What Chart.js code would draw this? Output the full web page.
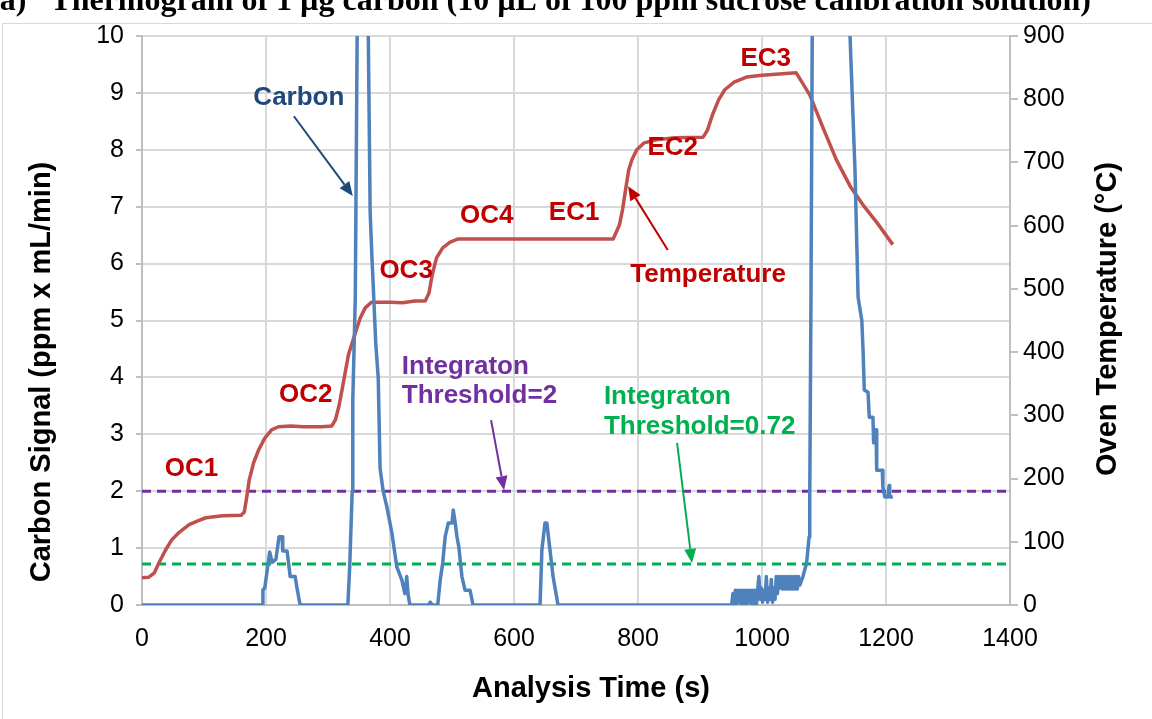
<!DOCTYPE html>
<html>
<head>
<meta charset="utf-8">
<script src="https://cdn.jsdelivr.net/npm/chart.js@4.4.0/dist/chart.umd.min.js"></script>
<style>
  html, body { margin: 0; padding: 0; background: #fff; }
  #wrap { width: 1152px; height: 719px; position: relative; }
</style>
</head>
<body>
<div id="wrap"><canvas id="thermoChart" width="1152" height="719"></canvas></div>
<script>
// Carbon signal (left axis, ppm x mL/min)
const carbonTime = [
  0, 194, 195, 198, 206, 210, 216, 221, 226, 227, 234, 239, 247, 250, 255,
  332, 335, 339, 340, 344, 347, 352, 357, 362, 365, 368, 371, 373, 377, 381, 384, 389, 395, 403, 411, 419, 424, 427, 429, 432,
  462, 465, 468, 477, 481, 485, 489, 494, 500, 502, 505, 508, 511, 516, 521, 529, 534,
  642, 645, 650, 653, 658, 663, 671,
  951, 953, 955, 957, 959, 961, 963, 965, 967, 969, 971, 973, 975, 977, 979, 981, 983, 985, 987, 989, 991, 993,
  995, 997, 999, 1001, 1003, 1005, 1007, 1009, 1011, 1013, 1015, 1017, 1019, 1021, 1023, 1025, 1027,
  1029, 1031, 1033, 1035, 1037, 1039, 1041, 1043, 1045, 1047, 1049, 1051, 1053, 1055, 1057, 1059, 1061,
  1066, 1072, 1076, 1077, 1079, 1081, 1090, 1115, 1135, 1142,
  1147, 1150, 1153, 1155, 1161, 1163, 1165, 1171, 1173, 1179, 1180, 1184, 1185, 1194, 1195, 1198, 1203, 1205, 1206, 1211
];
const carbonSignal = [
  0, 0, 0.26, 0.3, 0.93, 0.75, 0.8, 1.2, 1.2, 0.95, 0.95, 0.5, 0.5, 0.3, 0,
  0, 0.67, 2.0, 3.6, 5.4, 10, 18, 25, 20, 10, 6.9, 6.07, 5.6, 4.6, 4.0, 2.4, 2.0, 1.72, 1.27, 0.67, 0.44, 0.2, 0.5, 0.2, 0,
  0, 0.05, 0, 0, 0.44, 0.74, 1.2, 1.44, 1.44, 1.67, 1.46, 1.2, 1.02, 0.5, 0.26, 0.26, 0,
  0, 0.97, 1.44, 1.44, 0.97, 0.5, 0,
  0, 0.2, 0, 0.26, 0, 0.26, 0.05, 0.26, 0, 0.26, 0.02, 0.26, 0, 0.26, 0.05, 0.26, 0, 0.26, 0.02, 0.26, 0, 0.26,
  0.5, 0.1, 0.3, 0.05, 0.26, 0.1, 0.5, 0.05, 0.3, 0.1, 0.45, 0.05, 0.3, 0.1, 0.5, 0.2, 0.5,
  0.3, 0.5, 0.28, 0.5, 0.28, 0.5, 0.28, 0.5, 0.28, 0.5, 0.28, 0.5, 0.28, 0.5, 0.28, 0.5, 0.35,
  0.5, 0.74, 1.2, 1.85, 5.4, 10, 25, 30, 20, 10,
  8.52, 7.64, 6.29, 5.41, 5.0, 4.48, 3.78, 3.74, 3.3, 3.3, 2.85, 3.08, 2.37, 2.37, 2.07, 1.9, 1.9, 2.1, 1.9, 1.9
];

// Oven temperature (right axis, degC)
const tempTime = [
  0, 11, 20, 27, 38, 48, 60, 76, 90, 103, 130, 160, 165, 169, 173, 180, 188, 198, 209, 220, 240, 260, 290, 306,
  312, 318, 325, 333, 343, 352, 360, 370, 400, 420, 440, 457, 463, 468, 475, 485, 497, 510, 560, 760,
  770, 775, 780, 785, 790, 798, 810, 830, 860, 905, 912, 920, 930, 940, 955, 975, 1000, 1055,
  1077, 1100, 1120, 1143, 1165, 1186, 1211
];
const ovenTemp = [
  43, 44, 51, 66, 87, 103, 115, 127, 133, 138, 141, 142, 147, 171, 198, 225, 245, 264, 277, 282, 283, 282, 282, 283,
  293, 316, 353, 396, 427, 454, 470, 479, 479, 478, 481, 481, 494, 522, 549, 565, 574, 579, 579, 579,
  601, 625, 657, 688, 704, 720, 731, 736, 739, 740, 751, 775, 799, 815, 827, 835, 838, 842,
  807, 751, 704, 661, 630, 604, 570
];

// Integration thresholds
const thresholdHigh = 2;
const thresholdLow = 0.72;

// Axis ranges [min, max, step]
const timeRange = [0, 1400, 200];
const signalRange = [0, 10, 1];
const tempRange = [0, 900, 100];

// Text annotations, placed in data units (time, carbon signal)
const notes = [
  { text: 'OC1', t: 80, v: 2.39, color: '#C00000' },
  { text: 'OC2', t: 264, v: 3.69, color: '#C00000' },
  { text: 'OC3', t: 426, v: 5.87, color: '#C00000' },
  { text: 'OC4', t: 556, v: 6.84, color: '#C00000' },
  { text: 'EC1', t: 697, v: 6.89, color: '#C00000' },
  { text: 'EC2', t: 856, v: 8.03, color: '#C00000' },
  { text: 'EC3', t: 1006, v: 9.6, color: '#C00000' },
  { text: 'Temperature', t: 913, v: 5.8, color: '#C00000' },
  { text: 'Carbon', t: 253, v: 8.91, color: '#1F497D' },
  { text: 'Integraton', t: 419, v: 4.18, color: '#7030A0', align: 'left' },
  { text: 'Threshold=2', t: 419, v: 3.67, color: '#7030A0', align: 'left' },
  { text: 'Integraton', t: 745, v: 3.66, color: '#00B050', align: 'left' },
  { text: 'Threshold=0.72', t: 745, v: 3.13, color: '#00B050', align: 'left' }
];
const arrows = [
  { from: [245, 8.59], to: [340, 7.19], color: '#1F497D' },
  { from: [848, 6.24], to: [784, 7.36], color: '#C00000' },
  { from: [563, 3.25], to: [584, 2.02], color: '#7030A0' },
  { from: [863, 2.85], to: [887, 0.74], color: '#00B050' }
];

const FONT = '"Liberation Sans", Arial, sans-serif';

function drawArrow(ctx, x1, y1, x2, y2, color) {
  const ang = Math.atan2(y2 - y1, x2 - x1);
  const len = 14, half = 6;
  const bx = x2 - len * Math.cos(ang), by = y2 - len * Math.sin(ang);
  ctx.strokeStyle = color;
  ctx.fillStyle = color;
  ctx.lineWidth = 2;
  ctx.beginPath();
  ctx.moveTo(x1, y1);
  ctx.lineTo(bx, by);
  ctx.stroke();
  ctx.beginPath();
  ctx.moveTo(x2, y2);
  ctx.lineTo(bx + half * Math.sin(ang), by - half * Math.cos(ang));
  ctx.lineTo(bx - half * Math.sin(ang), by + half * Math.cos(ang));
  ctx.closePath();
  ctx.fill();
}

function drawTitle(ctx, text, cx, cy, rotate) {
  ctx.save();
  ctx.fillStyle = '#000';
  ctx.font = 'bold 29px ' + FONT;
  ctx.textAlign = 'center';
  ctx.textBaseline = 'middle';
  ctx.translate(cx, cy);
  if (rotate) ctx.rotate(-Math.PI / 2);
  ctx.fillText(text, 0, 0);
  ctx.restore();
}

const decorPlugin = {
  id: 'decor',
  beforeDraw(chart) {
    const ctx = chart.ctx;
    ctx.save();
    ctx.fillStyle = '#fff';
    ctx.fillRect(0, 0, chart.width, chart.height);
    // outer frame of the chart box
    ctx.strokeStyle = '#D9D9D9';
    ctx.lineWidth = 1;
    ctx.strokeRect(2.5, 23.5, 1200, 750);
    // figure caption, cut at the top edge
    ctx.fillStyle = '#000';
    ctx.font = 'bold 32px "Liberation Serif", "Times New Roman", serif';
    ctx.textBaseline = 'alphabetic';
    ctx.textAlign = 'left';
    ctx.fillText('(a)   Thermogram of 1 \u00b5g carbon (10 \u00b5L of 100 ppm sucrose calibration solution)', -11, 10);
    ctx.restore();
  },
  afterDraw(chart) {
    const { ctx, scales: { x, y } } = chart;
    ctx.save();
    arrows.forEach(a => {
      drawArrow(ctx, x.getPixelForValue(a.from[0]), y.getPixelForValue(a.from[1]),
        x.getPixelForValue(a.to[0]), y.getPixelForValue(a.to[1]), a.color);
    });
    ctx.font = 'bold 26px ' + FONT;
    ctx.textBaseline = 'middle';
    notes.forEach(n => {
      ctx.fillStyle = n.color;
      ctx.textAlign = n.align || 'center';
      ctx.fillText(n.text, x.getPixelForValue(n.t), y.getPixelForValue(n.v));
    });
    ctx.restore();
    // axis titles
    drawTitle(ctx, 'Carbon Signal (ppm x mL/min)', 42, 372, true);
    drawTitle(ctx, 'Oven Temperature (\u00b0C)', 1108, 319, true);
    drawTitle(ctx, 'Analysis Time (s)', 591, 689, false);
  }
};

const plainNumber = value => String(value);

const ctx = document.getElementById('thermoChart');
new Chart(ctx, {
  type: 'line',
  data: {
    datasets: [
      {
        label: 'Integration Threshold=2',
        data: [{ x: timeRange[0], y: thresholdHigh }, { x: timeRange[1], y: thresholdHigh }],
        borderColor: '#7030A0', borderWidth: 3, borderDash: [9, 6], yAxisID: 'y', order: 3
      },
      {
        label: 'Integration Threshold=0.72',
        data: [{ x: timeRange[0], y: thresholdLow }, { x: timeRange[1], y: thresholdLow }],
        borderColor: '#00B050', borderWidth: 3, borderDash: [9, 6], yAxisID: 'y', order: 4
      },
      {
        label: 'Temperature',
        data: tempTime.map((t, i) => ({ x: t, y: ovenTemp[i] })),
        borderColor: '#C0504D', borderWidth: 3.5, yAxisID: 'y2', order: 2
      },
      {
        label: 'Carbon',
        data: carbonTime.map((t, i) => ({ x: t, y: carbonSignal[i] })),
        borderColor: '#4F81BD', borderWidth: 3.5, yAxisID: 'y', order: 1
      }
    ]
  },
  options: {
    responsive: false,
    animation: false,
    clip: 0,
    elements: { point: { radius: 0 }, line: { tension: 0, borderJoinStyle: 'round' } },
    layout: { padding: { top: 36, left: 0, right: 0, bottom: 0 } },
    plugins: { legend: { display: false }, tooltip: { enabled: false } },
    scales: {
      x: {
        type: 'linear',
        min: timeRange[0], max: timeRange[1],
        ticks: { stepSize: timeRange[2], color: '#000', font: { family: FONT, size: 25 }, padding: 19, callback: plainNumber },
        grid: { color: '#D9D9D9', lineWidth: 2, drawTicks: false },
        border: { color: '#BFBFBF', width: 2 },
        afterFit(scale) { scale.height = 114; }
      },
      y: {
        position: 'left',
        min: signalRange[0], max: signalRange[1],
        ticks: { stepSize: signalRange[2], color: '#000', font: { family: FONT, size: 25 }, padding: 12, callback: plainNumber },
        grid: { color: '#D9D9D9', lineWidth: 2, tickLength: 6, tickColor: '#BFBFBF' },
        border: { color: '#BFBFBF', width: 2 },
        afterFit(scale) { scale.width = 142; }
      },
      y2: {
        position: 'right',
        min: tempRange[0], max: tempRange[1],
        ticks: { stepSize: tempRange[2], color: '#000', font: { family: FONT, size: 25 }, padding: 5, callback: plainNumber },
        grid: { drawOnChartArea: false, tickLength: 8, tickColor: '#BFBFBF', lineWidth: 2 },
        border: { color: '#BFBFBF', width: 2 },
        afterFit(scale) { scale.width = 142; }
      }
    }
  },
  plugins: [decorPlugin]
});
</script>
</body>
</html>
